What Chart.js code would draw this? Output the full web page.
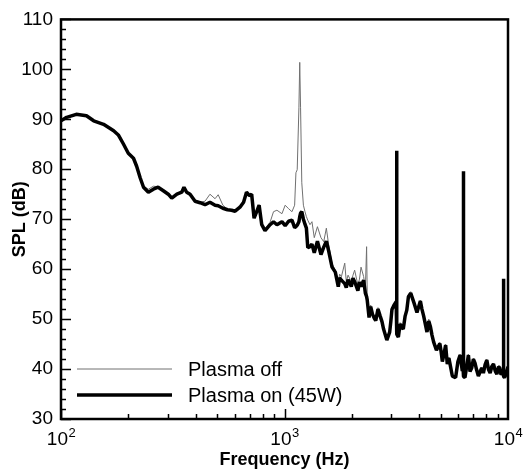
<!DOCTYPE html>
<html>
<head>
<meta charset="utf-8">
<script src="https://cdn.jsdelivr.net/npm/chart.js@4.4.1/dist/chart.umd.min.js"></script>
<style>
  html,body{margin:0;padding:0;background:#fff}
  #wrap{width:526px;height:474px}
</style>
</head>
<body>
<div id="wrap"><canvas id="c"></canvas></div>
<script>
// frequency (Hz) and SPL (dB)
const freq = [100,106,117,130,140,155,172,181,190,200,
  211,218,226,234,246,259,272,287,302,313,
  330,347,355,365,378,398,419,441,464,489,
  505,530,556,580,601,632,656,676,697,713,
  731,751,770,791,818,862,893,925,974,1007,
  1043,1080,1110,1125,1140,1160,1170,1180,1195,1215,
  1235,1253,1271,1300,1327,1359,1404,1456,1498,1539,
  1575,1632,1688,1740,1765,1797,1860,1890,1925,1990,
  2025,2060,2130,2165,2200,2260,2300,2330,2345,2390,
  2430,2475,2520,2560,2620,2680,2730,2775,2870,2955,
  2990,3025,3100,3160,3172,3185,3232,3290,3345,3400,
  3465,3525,3585,3670,3800,3915,4055,4120,4195,4340,
  4420,4500,4570,4650,4785,4955,5020,5085,5170,5260,
  5350,5440,5635,5830,5970,6105,6245,6300,6315,6330,
  6420,6650,6760,6880,7000,7120,7240,7370,7630,7760,
  7900,8040,8180,8320,8465,8610,8770,8920,9075,9190,
  9310,9540,9550,9565,9650,9820,10000];

const splOff = [89.7,90.4,91.0,90.7,89.7,89.0,87.7,86.8,85.1,83.2,
  82.2,80.6,78.3,76.6,76.0,76.6,76.5,75.8,75.1,74.3,
  75.1,75.5,76.4,75.5,75.2,73.7,73.4,73.6,75.0,74.1,
  74.9,72.8,72.0,71.8,71.6,72.4,73.5,75.5,74.7,75.1,
  70.4,71.6,72.9,69.2,68.0,69.4,71.5,71.8,71.1,72.8,
  72.1,71.5,72.8,79.3,79.9,92.3,101.4,92.3,77.3,72.8,
  71.5,70.5,69.8,68.9,69.5,66.3,68.5,66.3,65.5,68.2,
  65.0,61.1,59.8,57.5,59.0,58.5,61.2,57.5,58.8,57.5,
  58.8,59.8,56.8,58.0,60.4,58.5,56.0,64.5,55.0,50.8,
  52.8,51.3,50.6,50.0,52.3,50.8,49.8,48.3,46.0,47.6,
  49.6,52.0,53.0,53.5,52.0,47.0,46.8,49.3,48.6,48.3,
  50.8,52.0,54.8,55.5,53.4,51.6,53.8,52.3,50.8,47.8,
  50.0,48.8,47.2,45.6,44.0,45.4,43.8,41.8,43.3,45.0,
  41.3,42.4,38.8,38.5,41.6,43.0,39.8,40.0,39.5,38.5,
  38.5,43.0,39.8,40.4,42.2,41.4,40.0,38.8,40.4,39.4,
  41.1,42.0,40.1,39.4,40.7,41.2,39.8,39.2,40.7,40.4,
  39.1,39.5,39.0,38.5,38.6,39.3,40.6];

const splOn = [89.7,90.4,91.0,90.7,89.7,89.0,87.7,86.8,85.1,83.2,
  82.2,80.6,78.3,76.4,75.4,76.0,76.4,75.7,75.0,74.2,
  75.0,75.4,76.4,75.4,75.0,73.6,73.3,72.9,73.4,72.8,
  72.7,72.2,71.9,71.8,71.6,72.4,73.4,75.4,74.7,75.0,
  70.2,71.5,72.8,68.9,67.7,68.9,69.5,68.9,69.5,68.7,
  69.6,69.8,68.3,68.5,68.8,69.5,70.5,71.2,71.5,70.0,
  69.0,68.2,64.3,64.5,65.0,63.3,65.6,62.9,64.4,65.6,
  63.7,60.4,59.4,56.5,58.3,57.8,57.1,56.3,57.9,56.5,
  58.2,57.5,55.7,57.4,56.5,57.8,55.2,54.5,53.8,50.3,
  52.5,51.0,50.2,49.7,52.0,50.6,49.5,48.0,45.8,47.4,
  49.5,51.9,52.9,53.5,83.7,47.0,46.4,49.0,48.4,48.0,
  50.6,51.8,54.5,55.2,53.2,51.3,53.6,52.0,50.6,47.4,
  49.6,48.4,46.8,45.4,43.8,45.1,43.5,41.5,43.0,44.8,
  41.0,42.2,38.6,38.3,41.5,42.8,39.6,40.0,79.6,38.5,
  38.3,42.8,39.5,40.2,42.0,41.2,39.8,38.6,40.2,39.2,
  40.9,41.8,39.9,39.2,40.5,41.0,39.6,39.0,40.5,40.2,
  38.9,39.5,58.1,38.5,38.3,39.0,40.5];

const yTicks = [30,40,50,60,70,80,90,100,110];
const xTicks = [100,1000,10000];
const xExp = ['2','3','4'];
const seriesNames = ['Plasma off','Plasma on (45W)'];

const FONT = "'Liberation Sans', Arial, Helvetica, sans-serif";

const decor = {
  id:'decor',
  afterDraw(chart){
    const {ctx, chartArea:a, scales:{x,y}} = chart;
    ctx.save();
    ctx.strokeStyle = '#000';
    ctx.fillStyle = '#000';
    // inward ticks on left and bottom
    ctx.lineWidth = 1.5;
    ctx.beginPath();
    for(let v=30; v<=110; v+=2){
      const py = Math.round(y.getPixelForValue(v))+0.5;
      const len = (v%10===0) ? 10 : 5;
      ctx.moveTo(a.left, py); ctx.lineTo(a.left+len, py);
    }
    for(let d=100; d<10000; d*=10){
      for(let m=1; m<=9; m++){
        const px = Math.round(x.getPixelForValue(d*m))+0.5;
        const len = (m===1) ? 10 : 5;
        ctx.moveTo(px, a.bottom); ctx.lineTo(px, a.bottom-len);
      }
    }
    ctx.stroke();
    // frame
    ctx.lineWidth = 2.5;
    ctx.strokeRect(a.left, a.top, a.right-a.left, a.bottom-a.top);
    // x tick labels with exponent
    ctx.textBaseline = 'alphabetic';
    xTicks.forEach((t,i)=>{
      const px = x.getPixelForValue(t);
      ctx.font = '19px '+FONT;
      const wb = ctx.measureText('10').width;
      ctx.font = '13px '+FONT;
      const we = ctx.measureText(xExp[i]).width;
      const x0 = px - (wb+we)/2;
      ctx.font = '19px '+FONT;
      ctx.textAlign = 'left';
      ctx.fillText('10', x0, 445);
      ctx.font = '13px '+FONT;
      ctx.fillText(xExp[i], x0+wb+0.5, 437);
    });
    // axis titles
    ctx.font = 'bold 18px '+FONT;
    ctx.textAlign = 'center';
    ctx.fillText('Frequency (Hz)', (a.left+a.right)/2, 465);
    ctx.save();
    ctx.translate(25, (a.top+a.bottom)/2);
    ctx.rotate(-Math.PI/2);
    ctx.fillText('SPL (dB)', 0, 0);
    ctx.restore();
    // legend
    const ds = chart.data.datasets;
    const rows = [369, 395];
    ds.forEach((d,i)=>{
      ctx.strokeStyle = d.borderColor;
      ctx.lineWidth = d.borderWidth;
      ctx.beginPath();
      ctx.moveTo(77, rows[i]); ctx.lineTo(172, rows[i]);
      ctx.stroke();
      ctx.font = '20px '+FONT;
      ctx.textAlign = 'left';
      ctx.textBaseline = 'middle';
      ctx.fillStyle = '#000';
      ctx.fillText(d.label, 188, rows[i]+1);
    });
    ctx.restore();
  }
};

new Chart(document.getElementById('c'), {
  type:'line',
  data:{
    datasets:[
      {label:seriesNames[0], data:freq.map((f,i)=>({x:f,y:splOff[i]})),
       borderColor:'#707070', borderWidth:1, pointRadius:0, tension:0, order:2, borderJoinStyle:'bevel'},
      {label:seriesNames[1], data:freq.map((f,i)=>({x:f,y:splOn[i]})),
       borderColor:'#000000', borderWidth:3.5, pointRadius:0, tension:0, order:1, borderJoinStyle:'bevel'}
    ]
  },
  options:{
    responsive:true,
    maintainAspectRatio:false,
    animation:false,
    layout:{padding:{top:10,right:18,left:0,bottom:0}},
    plugins:{legend:{display:false},tooltip:{enabled:false}},
    scales:{
      x:{type:'logarithmic', min:100, max:10000,
         grid:{display:false, drawTicks:false}, border:{display:false},
         ticks:{display:false},
         afterFit(s){ s.height = 55; }},
      y:{type:'linear', min:30, max:110,
         afterBuildTicks(s){ s.ticks = yTicks.map(v=>({value:v})); },
         grid:{display:false, drawTicks:false}, border:{display:false},
         ticks:{color:'#000', padding:8, font:{family:FONT, size:19}},
         afterFit(s){ s.width = 61; }}
    }
  },
  plugins:[decor]
});
</script>
</body>
</html>
